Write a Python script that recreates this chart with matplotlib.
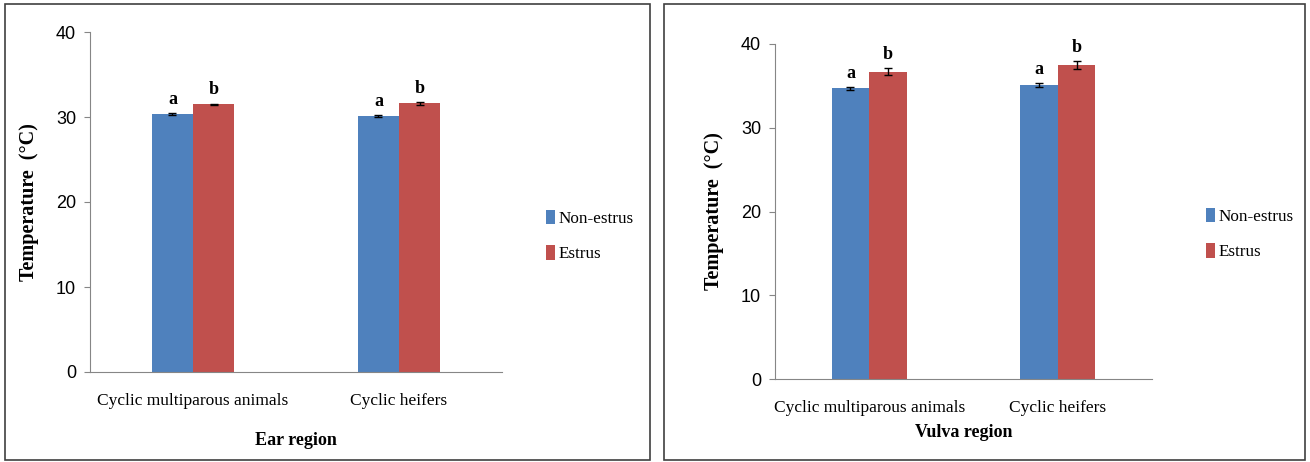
import matplotlib.pyplot as plt
from matplotlib.patches import Rectangle
import numpy as np

categories = ["Cyclic multiparous animals", "Cyclic heifers"]
series = ["Non-estrus", "Estrus"]

ear_non = [30.3, 30.1]
ear_est = [31.5, 31.6]
ear_non_err = [0.12, 0.08]
ear_est_err = [0.08, 0.15]

vulva_non = [34.7, 35.1]
vulva_est = [36.7, 37.5]
vulva_non_err = [0.2, 0.2]
vulva_est_err = [0.45, 0.45]

letters_non = ["a", "a"]
letters_est = ["b", "b"]

blue = "#4F81BD"
red = "#C0504D"
spine = "#868686"
serif = ["Liberation Serif", "DejaVu Serif"]
narrow = ["Liberation Sans Narrow", "Liberation Sans", "DejaVu Sans"]

fig = plt.figure(figsize=(13.1, 4.62), dpi=100)

# panel frames
for x0, x1 in [(5, 650), (664, 1305)]:
    fig.patches.append(Rectangle((x0 / 1310, 2 / 462), (x1 - x0) / 1310, 456 / 462,
                                 transform=fig.transFigure, fill=False,
                                 edgecolor="#404040", linewidth=1.2))


def panel(rect, non, est, non_err, est_err, xlabel, xlpad, leg_xy):
    ax = fig.add_axes(rect)
    x = np.arange(len(categories))
    w = 0.2
    b1 = ax.bar(x - w / 2, non, w, color=blue, yerr=non_err,
                error_kw=dict(ecolor="black", capsize=3, elinewidth=1, capthick=1))
    b2 = ax.bar(x + w / 2, est, w, color=red, yerr=est_err,
                error_kw=dict(ecolor="black", capsize=3, elinewidth=1, capthick=1))
    for i in range(len(categories)):
        ax.text(x[i] - w / 2, non[i] + non_err[i] + 0.6, letters_non[i], ha="center",
                va="bottom", fontsize=13, fontweight="bold", family=serif)
        ax.text(x[i] + w / 2, est[i] + est_err[i] + 0.6, letters_est[i], ha="center",
                va="bottom", fontsize=13, fontweight="bold", family=serif)
    ax.set_xlim(-0.5, 1.5)
    ax.set_ylim(0, 40)
    ax.set_yticks([0, 10, 20, 30, 40])
    ax.set_xticks(x)
    ax.set_xticklabels(categories, family=serif, fontsize=12.5)
    for lab in ax.get_yticklabels():
        lab.set_family(narrow)
        lab.set_fontsize(13)
    ax.tick_params(axis="x", length=0, pad=15)
    ax.tick_params(axis="y", length=4, color=spine, pad=6)
    for s in ["top", "right"]:
        ax.spines[s].set_visible(False)
    for s in ["left", "bottom"]:
        ax.spines[s].set_color(spine)
    ax.set_ylabel("Temperature  (°C)", family=serif, fontsize=14.5, fontweight="bold",
                  labelpad=12)
    ax.set_xlabel(xlabel, family=serif, fontsize=13, fontweight="bold", labelpad=xlpad)
    fig.legend([b1, b2], series, loc="center left", bbox_to_anchor=leg_xy,
               frameon=False, prop=dict(family=serif, size=12.3), handlelength=0.5,
               handleheight=0.9, handletextpad=0.2, labelspacing=1.1)
    return ax


panel([90 / 1310, 90 / 462, 412 / 1310, 340 / 462], ear_non, ear_est, ear_non_err,
      ear_est_err, "Ear region", 17, (531 / 1310, (462 - 236) / 462))
panel([775 / 1310, 83 / 462, 377 / 1310, 335 / 462], vulva_non, vulva_est, vulva_non_err,
      vulva_est_err, "Vulva region", 6, (1191 / 1310, (462 - 234) / 462))

fig.savefig("out.png", dpi=100)
